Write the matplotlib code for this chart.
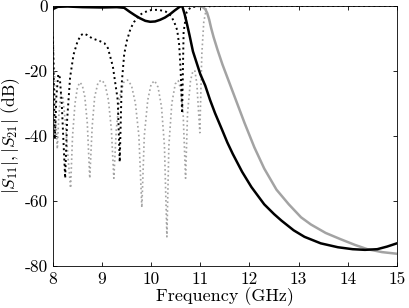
import matplotlib
matplotlib.use('Agg')
import matplotlib.pyplot as plt
import numpy as np

plt.rcParams['font.family'] = 'cmr10'
plt.rcParams['mathtext.fontset'] = 'cm'
plt.rcParams['axes.unicode_minus'] = False
plt.rcParams['axes.formatter.use_mathtext'] = False

# |S21| filter 1 (black solid)
f_s21_a = [8.0, 8.1, 8.3, 8.6, 9.0, 9.3, 9.45, 9.56, 9.67, 9.77, 9.88, 9.98, 10.08,
           10.18, 10.28, 10.38, 10.48, 10.58, 10.63, 10.68, 10.72, 10.78, 10.85, 11.0,
           11.1, 11.2, 11.3, 11.44, 11.55, 11.66, 11.85, 12.04, 12.3, 12.5, 12.65, 12.9,
           13.12, 13.45, 13.8, 14.1, 14.35, 14.6, 14.8, 15.0]
s21_a = [-1.0, -0.3, -0.2, -0.4, -0.5, -0.4, -0.6, -1.8, -2.9, -3.8, -4.6, -4.9, -4.8,
         -4.3, -3.6, -2.6, -1.4, -0.3, 0.0, -2.5, -5.0, -9.0, -14.0, -21.0,
         -24.5, -29.0, -33.0, -38.0, -42.0, -45.5, -51.0, -55.7, -61.0, -64.0, -66.0, -69.0,
         -71.0, -73.0, -74.2, -74.8, -75.0, -74.8, -74.0, -73.0]

# |S21| filter 2 (grey solid)
f_s21_b = [8.0, 10.9, 11.0, 11.05, 11.1, 11.14, 11.18, 11.22, 11.27, 11.35, 11.45, 11.6,
           11.75, 11.9, 12.1, 12.3, 12.55, 12.8, 13.05, 13.25, 13.55, 13.85, 14.15, 14.4,
           14.7, 15.0]
s21_b = [0.0, 0.0, -0.1, -0.4, -1.0, -2.2, -4.2, -6.8, -9.6, -13.5, -18.0, -24.0,
         -30.0, -36.0, -43.5, -50.0, -56.5, -61.0, -65.0, -67.2, -69.8, -71.7, -73.5, -74.8,
         -75.7, -76.2]

# |S11| filter 1 (black dotted)
f_s11_a = [8.0, 8.02, 8.04, 8.07, 8.11, 8.14, 8.18, 8.21, 8.25, 8.29, 8.35, 8.42, 8.5,
           8.57, 8.63, 8.7, 8.8, 8.95, 9.05, 9.12, 9.22, 9.32, 9.36, 9.4, 9.45, 9.5,
           9.58, 9.65, 9.75, 9.85, 10.0, 10.15, 10.3, 10.4, 10.47, 10.53, 10.57, 10.6,
           10.63, 10.66, 10.72, 10.8, 11.0, 15.0]
s11_a = [-9.5, -25, -41, -28, -21, -22, -30, -40, -53, -35, -22, -15, -11,
         -9, -8.5, -9, -10, -10.8, -11.5, -13, -18.6, -29, -48, -24, -15, -11,
         -7, -5, -3, -2, -1.3, -1.2, -1.8, -3, -5, -7.5, -12, -20,
         -33, -8, -2, -0.5, 0, 0]

# |S11| filter 2 (grey dotted)
f_s11_b = [8.0, 8.03, 8.06, 8.09, 8.12, 8.16, 8.2, 8.25, 8.3, 8.36, 8.4, 8.45, 8.5,
           8.55, 8.6, 8.65, 8.7, 8.75, 8.8, 8.85, 8.92, 8.99, 9.06, 9.13, 9.19, 9.24,
           9.29, 9.36, 9.44, 9.52, 9.6, 9.68, 9.75, 9.81, 9.86, 9.93, 10.0, 10.07,
           10.14, 10.21, 10.27, 10.32, 10.36, 10.42, 10.49, 10.55, 10.6, 10.65, 10.7,
           10.74, 10.8, 10.85, 10.89, 10.93, 10.99, 11.03, 11.07, 11.12, 11.2, 11.5, 15.0]
s11_b = [-8, -20, -35, -44, -34, -27, -28, -35, -45, -56, -40, -30, -25,
         -23.5, -24.5, -28, -36, -53, -37, -28, -23.5, -22.8, -24, -29, -38, -53,
         -38, -28, -23.5, -22.8, -24.5, -30, -40, -62, -40, -29, -24, -23,
         -25, -31, -43, -71, -43, -30, -24, -23, -25.5, -33, -53,
         -33, -23, -20, -20, -24, -39, -15, -5, -1, -0.2, 0, 0]

xticks = [8, 9, 10, 11, 12, 13, 14, 15]
yticks = [-80, -60, -40, -20, 0]

fig = plt.figure(figsize=(4.1, 3.08), dpi=100)
ax = fig.add_axes([0.129, 0.136, 0.839, 0.845])

grey = '#a3a3a3'
ax.plot(f_s11_b, s11_b, ':', color=grey, lw=1.2)
ax.plot(f_s11_a, s11_a, ':', color='k', lw=1.4)
ax.plot(f_s21_b, s21_b, '-', color=grey, lw=1.8)
ax.plot(f_s21_a, s21_a, '-', color='k', lw=1.8)

ax.set_xlim(8, 15)
ax.set_ylim(-80, 0)
ax.set_xticks(xticks)
ax.set_yticks(yticks)
ax.set_xticklabels([str(t) for t in xticks])
ax.set_yticklabels([str(t) for t in yticks])
ax.tick_params(direction='in', top=True, right=True, labelsize=12.5, length=3, width=0.6)
ax.tick_params(axis='x', pad=4)
for s in ax.spines.values():
    s.set_linewidth(0.6)

ax.set_xlabel('Frequency (GHz)', fontsize=13, labelpad=0)
ax.set_ylabel(r'$|S_{11}|, |S_{21}|$ (dB)', fontsize=12.5, labelpad=2)

fig.savefig('out.png', dpi=100)
